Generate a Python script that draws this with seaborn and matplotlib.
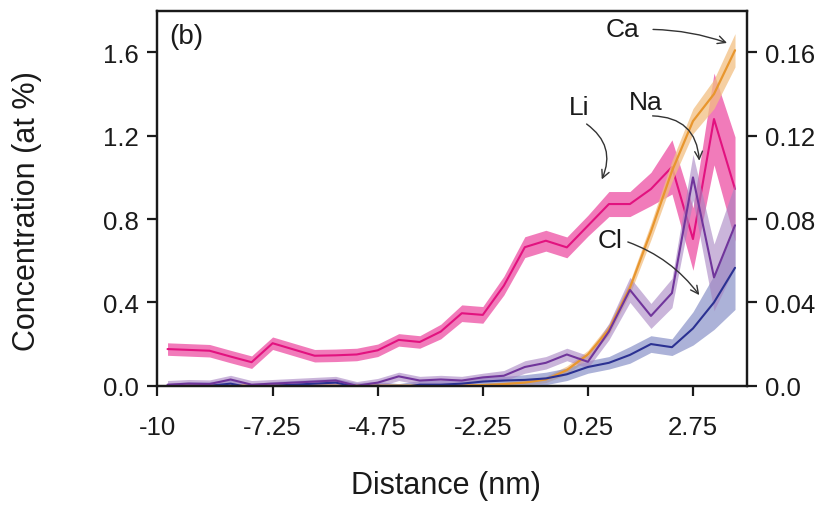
import numpy as np
import pandas as pd
import matplotlib
matplotlib.use("Agg")
import matplotlib.pyplot as plt
import seaborn as sns

# ---- data ----
distance = [-9.75, -9.25, -8.75, -8.25, -7.75, -7.25, -6.75, -6.25, -5.75, -5.25,
            -4.75, -4.25, -3.75, -3.25, -2.75, -2.25, -1.75, -1.25, -0.75, -0.25,
            0.25, 0.75, 1.25, 1.75, 2.25, 2.75, 3.25, 3.75]

li = [0.176, 0.172, 0.168, 0.140, 0.113, 0.204, 0.174, 0.144, 0.146, 0.150,
      0.170, 0.220, 0.210, 0.260, 0.348, 0.340, 0.480, 0.665, 0.696, 0.664,
      0.768, 0.872, 0.872, 0.944, 1.050, 0.704, 1.280, 0.944]
li_err = [0.03, 0.03, 0.03, 0.03, 0.03, 0.03, 0.03, 0.03, 0.03, 0.03,
          0.03, 0.03, 0.03, 0.035, 0.04, 0.04, 0.045, 0.05, 0.05, 0.05,
          0.05, 0.06, 0.06, 0.08, 0.13, 0.15, 0.22, 0.25]

ca = [0.0, 0.0, 0.0, 0.0, 0.0, 0.0, 0.0, 0.0, 0.0, 0.0,
      0.0, 0.0, 0.0, 0.0, 0.0001, 0.0003, 0.0008, 0.0015, 0.003, 0.0075,
      0.015, 0.027, 0.047, 0.074, 0.103, 0.127, 0.140, 0.161]
ca_err = [0.001, 0.001, 0.001, 0.001, 0.001, 0.001, 0.001, 0.001, 0.001, 0.001,
          0.001, 0.001, 0.001, 0.001, 0.001, 0.001, 0.001, 0.0012, 0.0015, 0.002,
          0.002, 0.0025, 0.003, 0.004, 0.005, 0.006, 0.007, 0.008]

na = [0.0005, 0.001, 0.0008, 0.003, 0.0005, 0.001, 0.0015, 0.002, 0.0025, 0.0,
      0.0015, 0.0045, 0.0025, 0.003, 0.0025, 0.004, 0.0048, 0.009, 0.011, 0.015,
      0.0115, 0.026, 0.046, 0.0335, 0.0445, 0.100, 0.052, 0.077]
na_err = [0.002, 0.002, 0.002, 0.002, 0.002, 0.002, 0.002, 0.002, 0.002, 0.002,
          0.002, 0.002, 0.002, 0.002, 0.002, 0.002, 0.0025, 0.003, 0.003, 0.003,
          0.003, 0.004, 0.006, 0.006, 0.007, 0.011, 0.016, 0.02]

cl = [-0.001, 0.0, 0.0, 0.001, -0.001, 0.0, 0.0005, 0.001, 0.0015, -0.0005,
      0.0, -0.001, 0.0005, 0.0005, 0.001, 0.002, 0.0025, 0.0028, 0.0035, 0.0055,
      0.009, 0.011, 0.0148, 0.020, 0.0185, 0.0275, 0.040, 0.0566]
cl_err = [0.002, 0.002, 0.002, 0.002, 0.002, 0.002, 0.002, 0.002, 0.002, 0.002,
          0.002, 0.002, 0.002, 0.002, 0.002, 0.002, 0.002, 0.0025, 0.003, 0.003,
          0.003, 0.003, 0.004, 0.004, 0.004, 0.008, 0.013, 0.02]

x_ticks = [-10, -7.25, -4.75, -2.25, 0.25, 2.75]
x_tick_labels = ["-10", "-7.25", "-4.75", "-2.25", "0.25", "2.75"]
left_ticks = [0.0, 0.4, 0.8, 1.2, 1.6]
left_tick_labels = ["0.0", "0.4", "0.8", "1.2", "1.6"]
right_ticks = [0.0, 0.04, 0.08, 0.12, 0.16]
right_tick_labels = ["0.0", "0.04", "0.08", "0.12", "0.16"]

# ---- style ----
sns.set_style("ticks")
plt.rcParams["font.family"] = ["Liberation Sans", "DejaVu Sans"]

fig = plt.figure(figsize=(8.33, 5.06), dpi=100)
ax = fig.add_axes([0.1885, 0.2357, 0.708, 0.7400])
ax2 = ax.twinx()

x = np.array(distance)

def band(axis, y, err, line_color, fill_color, alpha, lw=1.5, z=2):
    y = np.array(y); err = np.array(err)
    axis.fill_between(x, y - err, y + err, color=fill_color, alpha=alpha,
                      linewidth=0, zorder=z)
    sns.lineplot(x=x, y=y, ax=axis, color=line_color, linewidth=lw, zorder=z + 0.5,
                 legend=False)

band(ax, li, li_err, "#e2127f", "#ee5aa9", 0.8)
band(ax2, ca, ca_err, "#e8962e", "#f2bf82", 0.75, lw=1.6)
band(ax2, cl, cl_err, "#2b3192", "#8089c4", 0.65)
band(ax2, na, na_err, "#70359b", "#a784c2", 0.6)

ax.set_xlim(-10, 4.03)
ax.set_ylim(0, 1.797)
ax2.set_ylim(0, 0.1797)

ax.set_xticks(x_ticks)
ax.set_xticklabels(x_tick_labels)
ax.set_yticks(left_ticks)
ax.set_yticklabels(left_tick_labels)
ax2.set_yticks(right_ticks)
ax2.set_yticklabels(right_tick_labels)

for a in (ax, ax2):
    for s in a.spines.values():
        s.set_visible(True)
        s.set_linewidth(1.6)
        s.set_color("#1a1a1a")
    a.tick_params(direction="out", length=7, width=1.6, colors="#1a1a1a",
                  labelsize=18.5, pad=6)
ax.tick_params(axis="y", right=False)
ax2.tick_params(axis="y", left=False)
ax.tick_params(axis="x", top=False, pad=14)

ax.set_xlabel("Distance (nm)", fontsize=22, color="#1a1a1a")
ax.set_ylabel("Concentration (at %)", fontsize=22, color="#1a1a1a")
ax.xaxis.set_label_coords(0.49, -0.225)
ax.yaxis.set_label_coords(-0.195, 0.47)
ax2.set_ylabel("")

# ---- annotations ----
tc = "#1a1a1a"
ax2.text(-9.3, 0.168, "(b)", fontsize=20, ha="center", va="center", color=tc)
ax2.text(1.07, 0.171, "Ca", fontsize=19, ha="center", va="center", color=tc)
ax2.text(0.05, 0.134, "Li", fontsize=19, ha="center", va="center", color=tc)
ax2.text(1.62, 0.136, "Na", fontsize=19, ha="center", va="center", color=tc)
ax2.text(0.78, 0.070, "Cl", fontsize=19, ha="center", va="center", color=tc)

arrow_kw = dict(arrowstyle="->", color="#333333", lw=1.0, shrinkA=0, shrinkB=0,
                mutation_scale=14)
ax2.annotate("", xy=(3.56, 0.1645), xytext=(1.8, 0.171),
             arrowprops=dict(connectionstyle="arc3,rad=-0.08", **arrow_kw))
ax2.annotate("", xy=(0.58, 0.099), xytext=(0.22, 0.1256),
             arrowprops=dict(connectionstyle="arc3,rad=-0.4", **arrow_kw))
ax2.annotate("", xy=(2.9, 0.108), xytext=(1.79, 0.1295),
             arrowprops=dict(connectionstyle="arc3,rad=-0.45", **arrow_kw))
ax2.annotate("", xy=(2.9, 0.0435), xytext=(1.2, 0.069),
             arrowprops=dict(connectionstyle="arc3,rad=-0.15", **arrow_kw))

fig.savefig("out.png", dpi=100)
